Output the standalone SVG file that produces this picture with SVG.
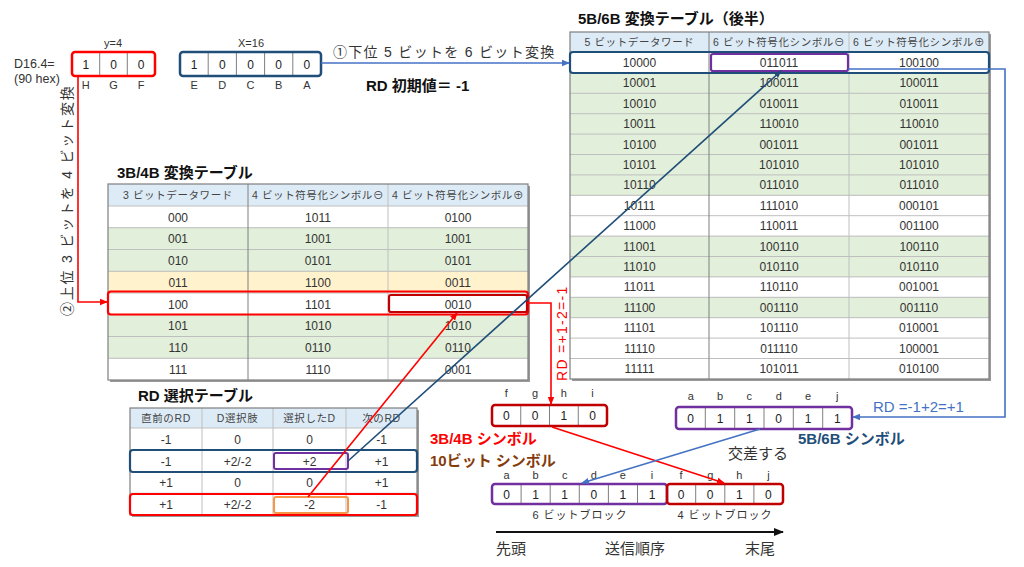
<svg xmlns="http://www.w3.org/2000/svg" width="1024" height="567" viewBox="0 0 1024 567">
<style>
text{font-family:"Liberation Sans","Noto Sans CJK JP",sans-serif;fill:#333}
.t{font-size:12px;text-anchor:middle;fill:#333}
.h{font-size:10.5px;text-anchor:middle;letter-spacing:0.6px;fill:#444}
.ttl{font-size:15px;font-weight:bold;fill:#111}
.lbl{font-size:11px;text-anchor:middle;fill:#333}
.bit{font-size:12px;text-anchor:middle;fill:#222}
.g{fill:#E2EFDA}
.w{fill:#fff}
.o{fill:#FFF2CC}
.hd{fill:#DDEBF7}
.hl{stroke:#BFBFBF;stroke-width:1}
.vl{stroke:#7F7F7F;stroke-width:1}
.frame{fill:none;stroke:#7F7F7F;stroke-width:1.2}
.shadow{fill:#9a9a9a}
.note{font-size:14px;letter-spacing:1.3px;fill:#333}
</style>
<defs>
<marker id="ab" markerWidth="8" markerHeight="8" refX="7" refY="4" orient="auto" markerUnits="userSpaceOnUse"><path d="M0,0.8 L8,4 L0,7.2 z" fill="#4472C4"/></marker>
<marker id="ad" markerWidth="8" markerHeight="8" refX="7" refY="4" orient="auto" markerUnits="userSpaceOnUse"><path d="M0,0.8 L8,4 L0,7.2 z" fill="#1F4E79"/></marker>
<marker id="ar" markerWidth="8" markerHeight="8" refX="7" refY="4" orient="auto" markerUnits="userSpaceOnUse"><path d="M0,0.8 L8,4 L0,7.2 z" fill="#FF0000"/></marker>
<marker id="ak" markerWidth="10" markerHeight="10" refX="9" refY="5" orient="auto" markerUnits="userSpaceOnUse"><path d="M0,1 L10,5 L0,9 z" fill="#111"/></marker>
</defs>

<g id="d164-label">
<text x="14" y="68" style="font-size:12.5px">D16.4=</text>
<text x="14" y="83" style="font-size:12.5px">(90 hex)</text>
</g>

<g id="hgf-box">
<text x="113" y="47" class="lbl">y=4</text>
<rect x="72" y="52" width="83" height="24" fill="#fff"/>
<line x1="99.7" y1="53" x2="99.7" y2="75" class="vl"/>
<line x1="127.3" y1="53" x2="127.3" y2="75" class="vl"/>
<text x="85.8" y="68.5" class="bit">1</text><text x="113.5" y="68.5" class="bit">0</text><text x="141.2" y="68.5" class="bit">0</text>
<rect x="72" y="52" width="83" height="24" rx="3" fill="none" stroke="#FF0000" stroke-width="2.5"/>
<text x="85.8" y="89" class="lbl">H</text><text x="113.5" y="89" class="lbl">G</text><text x="141.2" y="89" class="lbl">F</text>
</g>

<g id="edcba-box">
<text x="251" y="47" class="lbl">X=16</text>
<rect x="180" y="52" width="141" height="24" fill="#fff"/>
<line x1="208.2" y1="53" x2="208.2" y2="75" class="vl"/>
<line x1="236.4" y1="53" x2="236.4" y2="75" class="vl"/>
<line x1="264.6" y1="53" x2="264.6" y2="75" class="vl"/>
<line x1="292.8" y1="53" x2="292.8" y2="75" class="vl"/>
<text x="194.1" y="68.5" class="bit">1</text><text x="222.3" y="68.5" class="bit">0</text><text x="250.5" y="68.5" class="bit">0</text><text x="278.7" y="68.5" class="bit">0</text><text x="306.9" y="68.5" class="bit">0</text>
<rect x="180" y="52" width="141" height="24" rx="3" fill="none" stroke="#1F4E79" stroke-width="2.5"/>
<text x="194.1" y="89" class="lbl">E</text><text x="222.3" y="89" class="lbl">D</text><text x="250.5" y="89" class="lbl">C</text><text x="278.7" y="89" class="lbl">B</text><text x="306.9" y="89" class="lbl">A</text>
</g>

<g id="rd-initial">
<text x="366" y="91" style="font-size:15px;font-weight:bold;fill:#111">RD 初期値＝ -1</text>
</g>

<g id="table-5b6b">
<text x="578" y="24" class="ttl">5B/6B 変換テーブル（後半）</text>
<rect x="572" y="34" width="419" height="347" class="shadow"/>
<rect x="570" y="32" width="419" height="20.5" class="hd"/>
<rect x="570" y="52.5" width="419" height="20.4" class="w"/>
<rect x="570" y="72.9" width="419" height="122.4" class="g"/>
<rect x="570" y="195.3" width="419" height="40.8" class="w"/>
<rect x="570" y="236.1" width="419" height="40.8" class="g"/>
<rect x="570" y="276.9" width="419" height="20.4" class="w"/>
<rect x="570" y="297.3" width="419" height="20.4" class="g"/>
<rect x="570" y="317.7" width="419" height="61.2" class="w"/>
<g class="hl">
<line x1="570" y1="52.5" x2="989" y2="52.5"/><line x1="570" y1="72.9" x2="989" y2="72.9"/><line x1="570" y1="93.3" x2="989" y2="93.3"/><line x1="570" y1="113.7" x2="989" y2="113.7"/><line x1="570" y1="134.1" x2="989" y2="134.1"/><line x1="570" y1="154.5" x2="989" y2="154.5"/><line x1="570" y1="174.9" x2="989" y2="174.9"/><line x1="570" y1="195.3" x2="989" y2="195.3"/><line x1="570" y1="215.7" x2="989" y2="215.7"/><line x1="570" y1="236.1" x2="989" y2="236.1"/><line x1="570" y1="256.5" x2="989" y2="256.5"/><line x1="570" y1="276.9" x2="989" y2="276.9"/><line x1="570" y1="297.3" x2="989" y2="297.3"/><line x1="570" y1="317.7" x2="989" y2="317.7"/><line x1="570" y1="338.1" x2="989" y2="338.1"/><line x1="570" y1="358.5" x2="989" y2="358.5"/>
</g>
<line x1="709" y1="32" x2="709" y2="379" class="vl"/>
<line x1="849" y1="32" x2="849" y2="379" stroke="#BFBFBF"/>
<rect x="570" y="32" width="419" height="347" class="frame"/>
<text x="639.5" y="46" class="h">5 ビットデータワード</text>
<text x="779" y="46" class="h">6 ビット符号化シンボル⊖</text>
<text x="919" y="46" class="h">6 ビット符号化シンボル⊕</text>
<text x="639.5" y="67" class="t">10000</text><text x="779" y="67" class="t">011011</text><text x="919" y="67" class="t">100100</text>
<text x="639.5" y="87.4" class="t">10001</text><text x="779" y="87.4" class="t">100011</text><text x="919" y="87.4" class="t">100011</text>
<text x="639.5" y="107.8" class="t">10010</text><text x="779" y="107.8" class="t">010011</text><text x="919" y="107.8" class="t">010011</text>
<text x="639.5" y="128.2" class="t">10011</text><text x="779" y="128.2" class="t">110010</text><text x="919" y="128.2" class="t">110010</text>
<text x="639.5" y="148.6" class="t">10100</text><text x="779" y="148.6" class="t">001011</text><text x="919" y="148.6" class="t">001011</text>
<text x="639.5" y="169" class="t">10101</text><text x="779" y="169" class="t">101010</text><text x="919" y="169" class="t">101010</text>
<text x="639.5" y="189.4" class="t">10110</text><text x="779" y="189.4" class="t">011010</text><text x="919" y="189.4" class="t">011010</text>
<text x="639.5" y="209.8" class="t">10111</text><text x="779" y="209.8" class="t">111010</text><text x="919" y="209.8" class="t">000101</text>
<text x="639.5" y="230.2" class="t">11000</text><text x="779" y="230.2" class="t">110011</text><text x="919" y="230.2" class="t">001100</text>
<text x="639.5" y="250.6" class="t">11001</text><text x="779" y="250.6" class="t">100110</text><text x="919" y="250.6" class="t">100110</text>
<text x="639.5" y="271" class="t">11010</text><text x="779" y="271" class="t">010110</text><text x="919" y="271" class="t">010110</text>
<text x="639.5" y="291.4" class="t">11011</text><text x="779" y="291.4" class="t">110110</text><text x="919" y="291.4" class="t">001001</text>
<text x="639.5" y="311.8" class="t">11100</text><text x="779" y="311.8" class="t">001110</text><text x="919" y="311.8" class="t">001110</text>
<text x="639.5" y="332.2" class="t">11101</text><text x="779" y="332.2" class="t">101110</text><text x="919" y="332.2" class="t">010001</text>
<text x="639.5" y="352.6" class="t">11110</text><text x="779" y="352.6" class="t">011110</text><text x="919" y="352.6" class="t">100001</text>
<text x="639.5" y="373" class="t">11111</text><text x="779" y="373" class="t">101011</text><text x="919" y="373" class="t">010100</text>
<rect x="570" y="52" width="419" height="21" rx="3" fill="none" stroke="#1F4E79" stroke-width="2.2"/>
<rect x="711" y="54" width="137" height="17" rx="2" fill="none" stroke="#7030A0" stroke-width="2.2"/>
</g>

<g id="table-3b4b">
<text x="117" y="178" class="ttl">3B/4B 変換テーブル</text>
<rect x="110" y="186" width="420" height="196" class="shadow"/>
<rect x="108" y="184" width="420" height="22" class="hd"/>
<rect x="108" y="206" width="420" height="21.75" class="w"/>
<rect x="108" y="227.75" width="420" height="43.5" class="g"/>
<rect x="108" y="271.25" width="420" height="21.75" class="o"/>
<rect x="108" y="293" width="420" height="21.75" class="w"/>
<rect x="108" y="314.75" width="420" height="43.5" class="g"/>
<rect x="108" y="358.25" width="420" height="21.75" class="w"/>
<g class="hl">
<line x1="108" y1="206" x2="528" y2="206"/><line x1="108" y1="227.75" x2="528" y2="227.75"/><line x1="108" y1="249.5" x2="528" y2="249.5"/><line x1="108" y1="271.25" x2="528" y2="271.25"/><line x1="108" y1="293" x2="528" y2="293"/><line x1="108" y1="314.75" x2="528" y2="314.75"/><line x1="108" y1="336.5" x2="528" y2="336.5"/><line x1="108" y1="358.25" x2="528" y2="358.25"/>
</g>
<line x1="248" y1="184" x2="248" y2="380" class="vl"/>
<line x1="388" y1="184" x2="388" y2="380" stroke="#BFBFBF"/>
<rect x="108" y="184" width="420" height="196" class="frame"/>
<text x="178" y="199" class="h">3 ビットデータワード</text>
<text x="318" y="199" class="h">4 ビット符号化シンボル⊖</text>
<text x="458" y="199" class="h">4 ビット符号化シンボル⊕</text>
<text x="178" y="221.5" class="t">000</text><text x="318" y="221.5" class="t">1011</text><text x="458" y="221.5" class="t">0100</text>
<text x="178" y="243.25" class="t">001</text><text x="318" y="243.25" class="t">1001</text><text x="458" y="243.25" class="t">1001</text>
<text x="178" y="265" class="t">010</text><text x="318" y="265" class="t">0101</text><text x="458" y="265" class="t">0101</text>
<text x="178" y="286.75" class="t">011</text><text x="318" y="286.75" class="t">1100</text><text x="458" y="286.75" class="t">0011</text>
<text x="178" y="308.5" class="t">100</text><text x="318" y="308.5" class="t">1101</text><text x="458" y="308.5" class="t">0010</text>
<text x="178" y="330.25" class="t">101</text><text x="318" y="330.25" class="t">1010</text><text x="458" y="330.25" class="t">1010</text>
<text x="178" y="352" class="t">110</text><text x="318" y="352" class="t">0110</text><text x="458" y="352" class="t">0110</text>
<text x="178" y="373.75" class="t">111</text><text x="318" y="373.75" class="t">1110</text><text x="458" y="373.75" class="t">0001</text>
<rect x="108" y="291.5" width="420" height="23" rx="3" fill="none" stroke="#FF0000" stroke-width="2.2"/>
<rect x="389" y="295" width="138" height="17" rx="2" fill="none" stroke="#C00000" stroke-width="2.2"/>
</g>

<g id="table-rd">
<text x="138" y="401" class="ttl">RD 選択テーブル</text>
<rect x="132" y="410" width="287" height="107" class="shadow"/>
<rect x="130" y="408" width="287" height="20" class="hd"/>
<rect x="130" y="428" width="287" height="87" class="w"/>
<g class="hl">
<line x1="130" y1="428" x2="417" y2="428"/><line x1="130" y1="449.75" x2="417" y2="449.75"/><line x1="130" y1="471.5" x2="417" y2="471.5"/><line x1="130" y1="493.25" x2="417" y2="493.25"/>
<line x1="202" y1="408" x2="202" y2="515"/><line x1="273" y1="408" x2="273" y2="515"/><line x1="346" y1="408" x2="346" y2="515"/>
</g>
<rect x="130" y="408" width="287" height="107" class="frame"/>
<text x="166" y="422" class="h">直前のRD</text><text x="237.5" y="422" class="h">D選択肢</text><text x="309.5" y="422" class="h">選択したD</text><text x="381.5" y="422" class="h">次のRD</text>
<text x="166" y="443.5" class="t">-1</text><text x="237.5" y="443.5" class="t">0</text><text x="309.5" y="443.5" class="t">0</text><text x="381.5" y="443.5" class="t">-1</text>
<text x="166" y="465.5" class="t">-1</text><text x="237.5" y="465.5" class="t">+2/-2</text><text x="309.5" y="465.5" class="t">+2</text><text x="381.5" y="465.5" class="t">+1</text>
<text x="166" y="487" class="t">+1</text><text x="237.5" y="487" class="t">0</text><text x="309.5" y="487" class="t">0</text><text x="381.5" y="487" class="t">+1</text>
<text x="166" y="508.5" class="t">+1</text><text x="237.5" y="508.5" class="t">+2/-2</text><text x="309.5" y="508.5" class="t">-2</text><text x="381.5" y="508.5" class="t">-1</text>
<rect x="130" y="450" width="287" height="22" rx="3" fill="none" stroke="#1F4E79" stroke-width="2.2"/>
<rect x="274" y="453" width="74" height="16" rx="2" fill="none" stroke="#7030A0" stroke-width="2"/>
<rect x="130" y="494" width="287" height="21" rx="3" fill="none" stroke="#FF0000" stroke-width="2.2"/>
<rect x="274" y="497" width="74" height="16" rx="2" fill="none" stroke="#F79646" stroke-width="2"/>
</g>

<g id="fghi-box">
<text x="506.4" y="397" class="lbl">f</text><text x="535.1" y="397" class="lbl">g</text><text x="563.9" y="397" class="lbl">h</text><text x="592.6" y="397" class="lbl">i</text>
<rect x="492" y="405" width="115" height="21" fill="#fff"/>
<line x1="520.75" y1="406" x2="520.75" y2="425" class="vl"/><line x1="549.5" y1="406" x2="549.5" y2="425" class="vl"/><line x1="578.25" y1="406" x2="578.25" y2="425" class="vl"/>
<text x="506.4" y="420" class="bit">0</text><text x="535.1" y="420" class="bit">0</text><text x="563.9" y="420" class="bit">1</text><text x="592.6" y="420" class="bit">0</text>
<rect x="492" y="405" width="115" height="21" rx="3" fill="none" stroke="#C00000" stroke-width="2.5"/>
<text x="430" y="444" style="font-size:15px;font-weight:bold;fill:#FF0000">3B/4B シンボル</text>
</g>

<g id="abcdej-box">
<text x="690.7" y="400" class="lbl">a</text><text x="720" y="400" class="lbl">b</text><text x="749.3" y="400" class="lbl">c</text><text x="778.7" y="400" class="lbl">d</text><text x="808" y="400" class="lbl">e</text><text x="837.3" y="400" class="lbl">j</text>
<rect x="676" y="407" width="176" height="22" fill="#fff"/>
<line x1="705.3" y1="408" x2="705.3" y2="428" class="vl"/><line x1="734.7" y1="408" x2="734.7" y2="428" class="vl"/><line x1="764" y1="408" x2="764" y2="428" class="vl"/><line x1="793.3" y1="408" x2="793.3" y2="428" class="vl"/><line x1="822.7" y1="408" x2="822.7" y2="428" class="vl"/>
<text x="690.7" y="422.5" class="bit">0</text><text x="720" y="422.5" class="bit">1</text><text x="749.3" y="422.5" class="bit">1</text><text x="778.7" y="422.5" class="bit">0</text><text x="808" y="422.5" class="bit">1</text><text x="837.3" y="422.5" class="bit">1</text>
<rect x="676" y="407" width="176" height="22" rx="3" fill="none" stroke="#7030A0" stroke-width="2.5"/>
<text x="798" y="444" style="font-size:15px;font-weight:bold;fill:#1F4E79">5B/6B シンボル</text>
</g>

<g id="ten-bit-box">
<text x="430" y="466" style="font-size:15px;font-weight:bold;fill:#843C0C">10ビット シンボル</text>
<text x="506.5" y="479" class="lbl">a</text><text x="535.6" y="479" class="lbl">b</text><text x="564.7" y="479" class="lbl">c</text><text x="593.8" y="479" class="lbl">d</text><text x="622.9" y="479" class="lbl">e</text><text x="652" y="479" class="lbl">i</text><text x="681.1" y="479" class="lbl">f</text><text x="710.2" y="479" class="lbl">g</text><text x="739.3" y="479" class="lbl">h</text><text x="768.4" y="479" class="lbl">j</text>
<rect x="492" y="484" width="291" height="20" fill="#fff"/>
<g class="vl">
<line x1="521.1" y1="485" x2="521.1" y2="503"/><line x1="550.2" y1="485" x2="550.2" y2="503"/><line x1="579.3" y1="485" x2="579.3" y2="503"/><line x1="608.4" y1="485" x2="608.4" y2="503"/><line x1="637.5" y1="485" x2="637.5" y2="503"/><line x1="695.7" y1="485" x2="695.7" y2="503"/><line x1="724.8" y1="485" x2="724.8" y2="503"/><line x1="753.9" y1="485" x2="753.9" y2="503"/>
</g>
<text x="506.5" y="498.5" class="bit">0</text><text x="535.6" y="498.5" class="bit">1</text><text x="564.7" y="498.5" class="bit">1</text><text x="593.8" y="498.5" class="bit">0</text><text x="622.9" y="498.5" class="bit">1</text><text x="652" y="498.5" class="bit">1</text><text x="681.1" y="498.5" class="bit">0</text><text x="710.2" y="498.5" class="bit">0</text><text x="739.3" y="498.5" class="bit">1</text><text x="768.4" y="498.5" class="bit">0</text>
<rect x="492" y="484" width="175" height="20" rx="3" fill="none" stroke="#7030A0" stroke-width="2.5"/>
<rect x="667" y="484" width="116" height="20" rx="3" fill="none" stroke="#C00000" stroke-width="2.5"/>
<text x="580" y="519" class="lbl" style="letter-spacing:1px">6 ビットブロック</text>
<text x="725" y="519" class="lbl" style="letter-spacing:1px">4 ビットブロック</text>
</g>

<g id="order-axis">
<text x="496" y="554" style="font-size:15px">先頭</text>
<text x="635" y="554" style="font-size:15px;text-anchor:middle">送信順序</text>
<text x="745" y="554" style="font-size:15px">末尾</text>
</g>

<g id="connectors" fill="none">
<line x1="321" y1="63" x2="569" y2="63" stroke="#4472C4" stroke-width="1.6" marker-end="url(#ab)"/>
<text x="333" y="57" class="note">①下位 5 ビットを 6 ビット変換</text>
<polyline points="78,76 78,302 107,302" stroke="#FF0000" stroke-width="1.6" marker-end="url(#ar)"/>
<text transform="translate(72,316) rotate(-90)" class="note" style="letter-spacing:1.8px">②上位 3 ビットを 4 ビット変換</text>
<polyline points="848,69 1005,69 1005,417 853,417" stroke="#4472C4" stroke-width="1.6" marker-end="url(#ab)"/>
<text x="873" y="412" style="font-size:15px;fill:#4472C4">RD =-1+2=+1</text>
<polyline points="527,303 551,303 551,404" stroke="#FF0000" stroke-width="1.6" marker-end="url(#ar)"/>
<text transform="translate(567,381) rotate(-90)" style="font-size:14px;letter-spacing:1.3px;fill:#FF0000">RD =+1-2=-1</text>
<line x1="348" y1="461" x2="781" y2="71" stroke="#1F4E79" stroke-width="1.6" marker-end="url(#ad)"/>
<line x1="308" y1="497" x2="457" y2="313" stroke="#FF0000" stroke-width="1.6" marker-end="url(#ar)"/>
<line x1="552" y1="427" x2="724" y2="483" stroke="#FF0000" stroke-width="1.6" marker-end="url(#ar)"/>
<line x1="760" y1="429" x2="582" y2="483" stroke="#4472C4" stroke-width="1.6" marker-end="url(#ab)"/>
<text x="728" y="459" style="font-size:15px">交差する</text>
<line x1="496" y1="532" x2="783" y2="532" stroke="#111" stroke-width="2" marker-end="url(#ak)"/>
</g>
</svg>
